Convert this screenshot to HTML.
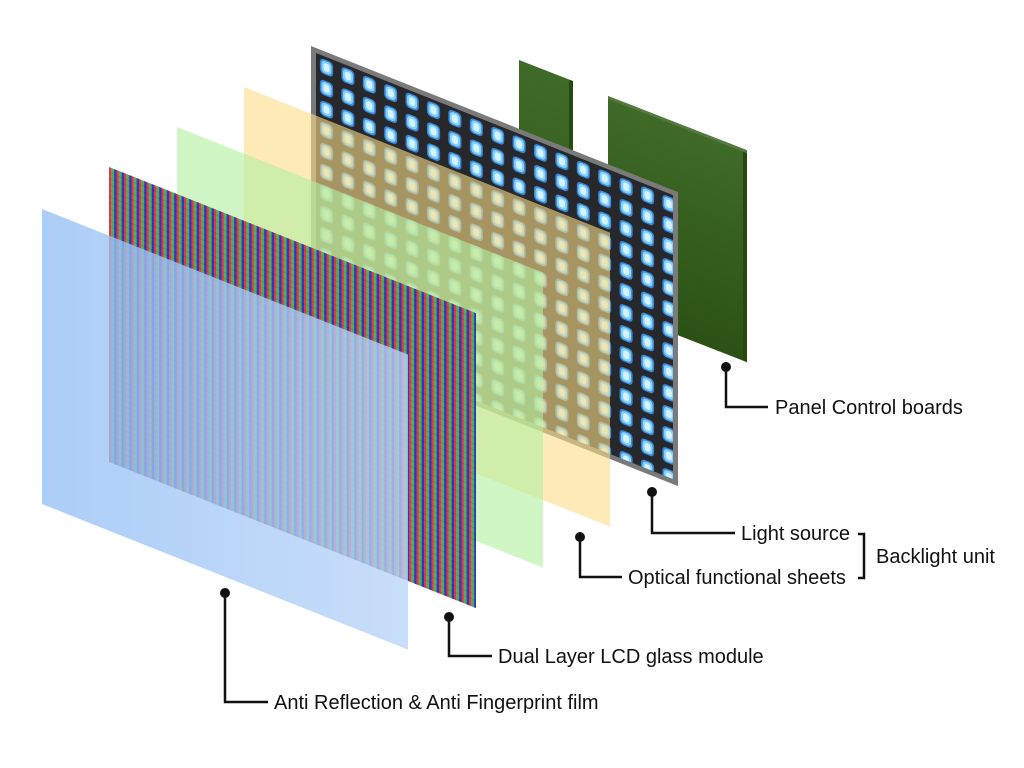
<!DOCTYPE html>
<html><head><meta charset="utf-8"><style>
html,body{margin:0;padding:0;background:#fff;}
svg{display:block;}
text{font-family:"Liberation Sans",sans-serif;font-size:20px;fill:#111;}
</style></head><body>
<svg width="1024" height="768" viewBox="0 0 1024 768" xmlns="http://www.w3.org/2000/svg">
<defs>
<pattern id="rgb" width="7.5" height="6" patternUnits="userSpaceOnUse">
<rect x="0" y="0" width="2.5" height="6" fill="#e03a48"/>
<rect x="2.5" y="0" width="2.5" height="6" fill="#44b850"/>
<rect x="5" y="0" width="2.5" height="6" fill="#3038c0"/>
<rect x="0" y="5" width="7.5" height="1" fill="#000" opacity="0.1"/>
</pattern>
<pattern id="leds" width="21.4" height="21" patternUnits="userSpaceOnUse" x="5" y="5">
<rect x="4" y="3" width="13" height="15" rx="4" fill="#3f88d8"/>
<rect x="5.5" y="4.5" width="10" height="12" rx="3.5" fill="#80d2ff"/>
<rect x="7.5" y="6.5" width="6" height="8" rx="2.5" fill="#d4f2ff"/>
</pattern>
<linearGradient id="brd" x1="0" y1="0" x2="0" y2="1">
<stop offset="0" stop-color="#3f6a28"/><stop offset="1" stop-color="#2b5214"/>
</linearGradient>
<linearGradient id="film" x1="0" y1="0" x2="1" y2="0">
<stop offset="0" stop-color="#94bff5"/><stop offset="1" stop-color="#b9d5f8"/>
</linearGradient>
</defs>

<g transform="matrix(1 0.39 0 1 519 60)">
<rect x="0" y="0" width="50" height="300" fill="url(#brd)"/>
<rect x="50" y="0" width="4" height="300" fill="#244a10"/>
</g>
<g transform="matrix(1 0.39 0 1 608 96)">
<rect x="0" y="0" width="135" height="212" fill="url(#brd)"/>
<rect x="135" y="0" width="4" height="212" fill="#244a10"/>
<rect x="0" y="0" width="139" height="3" fill="#557a40"/>
</g>

<g transform="matrix(1 0.398 0 1 311 46)">
<rect x="0" y="0" width="367" height="294" fill="#7a7a7a"/>
<rect x="5" y="5" width="357" height="284" fill="#26282c"/>
<rect x="5" y="5" width="357" height="284" fill="url(#leds)"/>
</g>

<g transform="matrix(1 0.398 0 1 244 87)">
<rect x="0" y="0" width="366" height="294" fill="#fcdc86" opacity="0.6"/>
</g>
<g transform="matrix(1 0.398 0 1 177 127)">
<rect x="0" y="0" width="366" height="295" fill="#b2f0a0" opacity="0.6"/>
</g>
<g transform="matrix(1 0.398 0 1 109 167)">
<rect x="0" y="0" width="367" height="295" fill="url(#rgb)"/>
</g>
<g transform="matrix(1 0.398 0 1 42 209)">
<rect x="0" y="0" width="366" height="295" fill="url(#film)" opacity="0.78"/>
</g>

<g stroke="#111" stroke-width="2.5" fill="none">
<polyline points="726,367 726,407 768,407"/>
<polyline points="652,492 652,533 735,533"/>
<polyline points="580,537 580,577 622,577"/>
<polyline points="449,617 449,656 492,656"/>
<polyline points="225,593 225,702 268,702"/>
<polyline points="858,534 864,534 864,578 858,578"/>
</g>
<g fill="#111">
<circle cx="726" cy="367" r="5"/>
<circle cx="652" cy="492" r="5"/>
<circle cx="580" cy="537" r="5"/>
<circle cx="449" cy="617" r="5"/>
<circle cx="225" cy="593" r="5"/>
</g>
<text x="775" y="414">Panel Control boards</text>
<text x="741" y="540">Light source</text>
<text x="628" y="584">Optical functional sheets</text>
<text x="876" y="563">Backlight unit</text>
<text x="498" y="663">Dual Layer LCD glass module</text>
<text x="274" y="709">Anti Reflection &amp; Anti Fingerprint film</text>
</svg>
</body></html>
